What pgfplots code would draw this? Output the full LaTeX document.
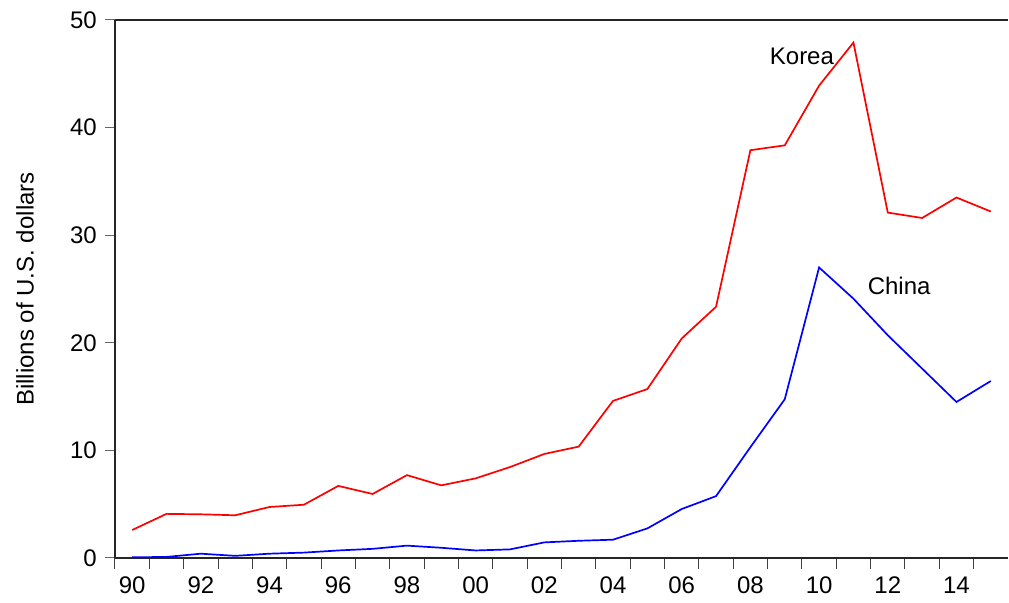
\documentclass[border=0pt]{standalone}
\usepackage{pgfplots}
\pgfplotsset{compat=1.18}
\usepackage{fontspec}
\setmainfont{Liberation Sans}
\pgfplotstableread{
year korea china
1990 2.6 0.06
1991 4.1 0.1
1992 4.06 0.4
1993 3.97 0.2
1994 4.74 0.4
1995 4.95 0.5
1996 6.7 0.7
1997 5.95 0.85
1998 7.7 1.15
1999 6.75 0.95
2000 7.4 0.7
2001 8.45 0.8
2002 9.67 1.45
2003 10.35 1.6
2004 14.6 1.7
2005 15.7 2.75
2006 20.4 4.55
2007 23.35 5.75
2008 37.9 10.3
2009 38.35 14.75
2010 43.9 27.0
2011 47.9 24.1
2012 32.1 20.7
2013 31.6 17.6
2014 33.5 14.5
2015 32.2 16.45
}\datatable
\begin{document}
\fontsize{24}{28}\selectfont
\begin{tikzpicture}
\begin{axis}[name=ax,
  scale only axis, width=893pt, height=538pt,
  xmin=1989.5, xmax=2015.5, ymin=0, ymax=50,
  axis x line*=bottom, axis y line*=left,
  axis line style={black!85, line width=1.3pt, -},
  xtick={1990,1992,...,2014},
  xticklabels={90,92,94,96,98,00,02,04,06,08,10,12,14},
  minor xtick={1989.5,1990.5,...,2014.5},
  major x tick style={draw=none},
  minor x tick style={black!75, line width=1pt},
  ytick={0,10,...,50},
  major y tick style={black!60, line width=1pt},
  tick align=outside,
  major tick length=10pt, minor tick length=11pt,
  /pgf/number format/assume math mode=true,
  tick label style={font=\fontsize{24}{28}\selectfont},
  xticklabel style={yshift=-1pt},
  ylabel={Billions of U.S. dollars},
  ylabel style={font=\fontsize{24}{28}\selectfont, yshift=20pt},
  clip=false,
]
\addplot[red, line width=1.7pt] table[x=year, y=korea] {\datatable};
\addplot[blue, line width=1.7pt] table[x=year, y=china] {\datatable};
\draw[black!85, line width=1.3pt] (rel axis cs:0,1) -- (rel axis cs:1,1);
\node[font=\fontsize{24}{28}\selectfont] at (axis cs:2009.5,46.6) {Korea};
\node[font=\fontsize{24}{28}\selectfont] at (axis cs:2012.33,25.3) {China};
\end{axis}
\pgfresetboundingbox
\path ([shift={(-115pt,-45pt)}]ax.south west) rectangle ([shift={(1pt,20pt)}]ax.north east);
\end{tikzpicture}
\end{document}
